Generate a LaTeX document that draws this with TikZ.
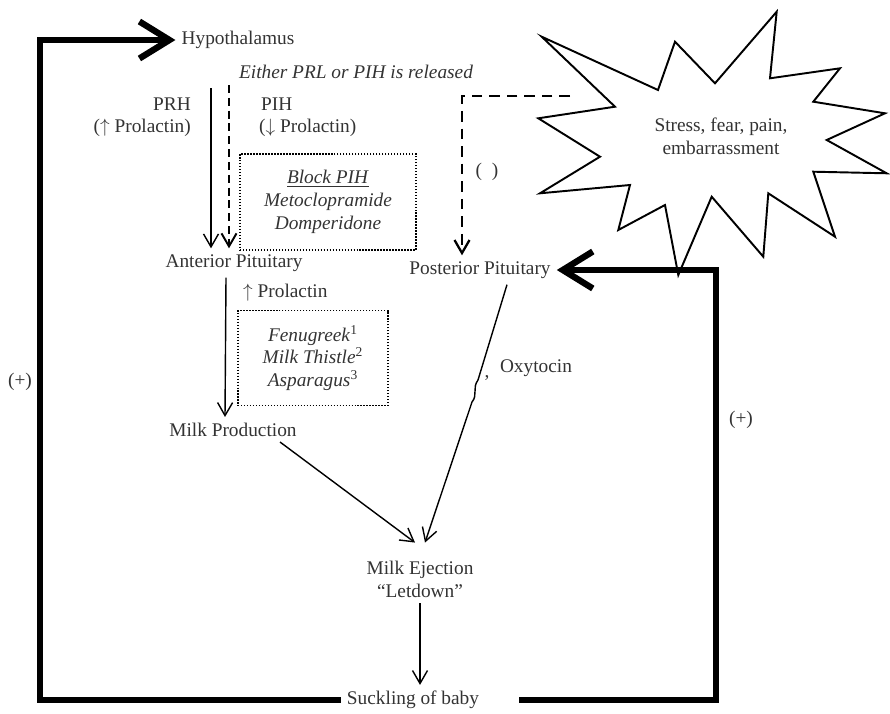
\documentclass[tikz,border=0pt]{standalone}
\usepackage{fontspec}
\setmainfont{Liberation Serif}
\usetikzlibrary{arrows.meta}

\begin{document}
\begin{tikzpicture}[x=0.02cm,y=-0.02cm,
    font=\fontsize{11}{13}\selectfont,
    txt/.style={text=black!80,align=center},
    itx/.style={txt,font=\fontsize{11}{13}\selectfont\itshape},
    thin arrow/.style={-{Straight Barb[length=2.6mm,width=3mm]},line width=0.8pt},
    loopline/.style={-{Straight Barb[length=6mm,width=7.4mm]},line width=3.6pt},
    dotbox/.style={draw,dash pattern=on 0.8pt off 0.9pt,line width=0.8pt,align=center,text=black!80}]
    \useasboundingbox (0,0) rectangle (890,714);
    \node[txt] (hyp) at (238,40) {Hypothalamus};
    \node[itx] (either) at (356,72) {Either PRL or PIH is released};
    \node[txt,anchor=east] (prh) at (197,104) {PRH};
    \node[txt,anchor=east] (prhup) at (197,128) {($\uparrow$ Prolactin)};
    \node[txt,anchor=west] (pih) at (255,104) {PIH};
    \node[txt,anchor=west] (pihdown) at (253,128) {($\downarrow$ Prolactin)};
    \node[dotbox,minimum width=3.52cm,minimum height=1.92cm] (block) at (328,202)
        {\underline{\textit{Block PIH}}\\\textit{Metoclopramide}\\\textit{Domperidone}};
    \node[txt] (ant) at (234,263) {Anterior Pituitary};
    \node[txt,anchor=west] (prl) at (237,293) {$\uparrow$ Prolactin};
    \node[dotbox,minimum width=3cm,minimum height=1.9cm] (herbs) at (313,358)
        {\textit{Fenugreek}\textsuperscript{1}\\\textit{Milk Thistle}\textsuperscript{2}\\\textit{Asparagus}\textsuperscript{3}};
    \node[txt] (prod) at (233,430) {Milk Production};
    \node[txt] (post) at (480,270) {Posterior Pituitary};
    \node[txt] (ej) at (420,579) {Milk Ejection\\“Letdown”};
    \node[txt] (suck) at (413,700) {Suckling of baby};
    \node[txt] (plusL) at (20,382) {(+)};
    \node[txt] (plusR) at (741,420) {(+)};
    \node[txt] (blank) at (487,172) {(\ \ )};
    \node[txt] (oxy) at (536,368) {Oxytocin};
    \node[txt,inner sep=0pt] (comma) at (487,378) {,};
    \node[txt] (stress) at (721,136) {Stress, fear, pain,\\embarrassment};
    \draw[line width=1.1pt] (541.7,36.7) -- (658,90) -- (675,41.7) -- (715,83.3) -- (776.7,11.7)
        -- (770,78.3) -- (840,68.3) -- (813.3,101.7) -- (885,113.3) -- (826.7,140)
        -- (886.7,173.3) -- (813.3,171.7) -- (835,236.7) -- (768.3,193.3) -- (763.3,256.7)
        -- (711.7,196.7) -- (678.3,275) -- (665,205) -- (618.3,230) -- (630,185)
        -- (540,193.3) -- (600,156.7) -- (538.3,118.3) -- (615,106.7) -- cycle;
    \coordinate (prhtop) at (211,88);
    \coordinate (pihtop) at (229,85);
    \coordinate (stressend) at (570,96);
    \draw[thin arrow] (prhtop) -- (prhtop |- ant.north);
    \draw[thin arrow,dash pattern=on 4.5pt off 2.8pt,line width=1.1pt] (pihtop) -- (pihtop |- ant.north);
    \draw[thin arrow] ([xshift=-0.16cm]ant.south) -- ([xshift=-0.16cm]prod.north);
    \draw[thin arrow,dash pattern=on 6pt off 4pt,line width=1.3pt] (stressend) -| ([xshift=-0.36cm]post.north);
    \draw[thin arrow] ([xshift=0.54cm]post.south) -- (478,380) .. controls (472,388) and (478,395) .. (472,402)
        -- ([shift={(5,-12)}]ej.north);
    \draw[thin arrow] ([shift={(47,-1)}]prod.south) -- ([shift={(-5,-12)}]ej.north);
    \draw[thin arrow] (ej.south) -- (ej.south |- suck.north);
    \coordinate (loopL) at (40,40);
    \coordinate (loopR) at (716,270);
    \draw[loopline] (suck.west) -| (loopL) -- (hyp.west);
    \draw[loopline] ([xshift=0.68cm]suck.east) -| (loopR) -- (post.east);
\end{tikzpicture}
\end{document}
